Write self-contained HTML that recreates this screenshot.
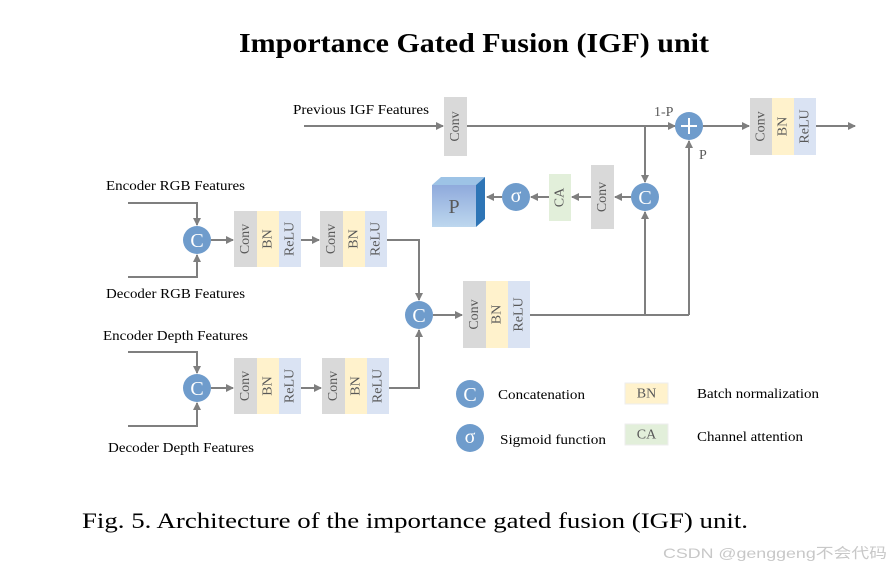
<!DOCTYPE html>
<html><head><meta charset="utf-8"><style>
html,body{margin:0;padding:0;background:#fff;}
svg{display:block;}
text{font-family:"Liberation Serif",serif;}
.l{stroke:#7f7f7f;stroke-width:2;fill:none;}
.bt{fill:#595959;font-size:14px;text-anchor:middle;dominant-baseline:central;}
.lab{fill:#000;font-size:14px;}
</style></head><body>
<svg width="891" height="568" viewBox="0 0 891 568" xmlns="http://www.w3.org/2000/svg">
<defs>
<marker id="a" markerWidth="8" markerHeight="8" refX="7" refY="4" orient="auto" markerUnits="userSpaceOnUse"><path d="M0,0 L8,4 L0,8 Z" fill="#7f7f7f"/></marker>
<linearGradient id="cf" x1="0" y1="0" x2="0" y2="1"><stop offset="0" stop-color="#8faadc"/><stop offset="1" stop-color="#bdd7ee"/></linearGradient>
</defs>
<text x="474" y="52" text-anchor="middle" font-size="27" font-weight="bold" textLength="470" lengthAdjust="spacingAndGlyphs">Importance Gated Fusion (IGF) unit</text>

<!-- top row -->
<text class="lab" x="293" y="114" textLength="136" lengthAdjust="spacingAndGlyphs">Previous IGF Features</text>
<path class="l" d="M304,126 H443" marker-end="url(#a)"/>
<rect x="444" y="97" width="23" height="59" fill="#d9d9d9"/>
<text class="bt" transform="rotate(-90 455.5 126.5)" x="455.5" y="126.5">Conv</text>
<path class="l" d="M467,126 H675" marker-end="url(#a)"/>
<text x="654" y="116" font-size="14" fill="#595959">1-P</text>
<path class="l" d="M645,126 V182" marker-end="url(#a)"/>
<circle cx="689" cy="126" r="14" fill="#6f9ccc"/>
<path d="M681,126 H697 M689,118 V134" stroke="#fff" stroke-width="2"/>
<path class="l" d="M703,126 H749" marker-end="url(#a)"/>
<rect x="750" y="98" width="22" height="57" fill="#d9d9d9"/>
<rect x="772" y="98" width="22" height="57" fill="#fff2cc"/>
<rect x="794" y="98" width="22" height="57" fill="#dae3f3"/>
<text class="bt" transform="rotate(-90 761 126.5)" x="761" y="126.5">Conv</text>
<text class="bt" transform="rotate(-90 783 126.5)" x="783" y="126.5">BN</text>
<text class="bt" transform="rotate(-90 805 126.5)" x="805" y="126.5">ReLU</text>
<path class="l" d="M816,126 H855" marker-end="url(#a)"/>
<text x="699" y="159" font-size="14" fill="#595959">P</text>
<path class="l" d="M689,315 V141" marker-end="url(#a)"/>

<!-- gate row -->
<circle cx="645" cy="197" r="14" fill="#6f9ccc"/>
<text x="645" y="198" fill="#fff" font-size="20" text-anchor="middle" dominant-baseline="central">C</text>
<path class="l" d="M645,315 V212" marker-end="url(#a)"/>
<path class="l" d="M631,197 H615" marker-end="url(#a)"/>
<rect x="591" y="165" width="23" height="64" fill="#d9d9d9"/>
<text class="bt" transform="rotate(-90 602.5 197)" x="602.5" y="197">Conv</text>
<path class="l" d="M591,197 H572" marker-end="url(#a)"/>
<rect x="549" y="174" width="22" height="47" fill="#e2efda"/>
<text class="bt" transform="rotate(-90 560 197.5)" x="560" y="197.5">CA</text>
<path class="l" d="M549,197 H531" marker-end="url(#a)"/>
<circle cx="516" cy="197" r="14" fill="#6f9ccc"/>
<text x="516" y="196" fill="#fff" font-size="20" text-anchor="middle" dominant-baseline="central">σ</text>
<path class="l" d="M502,197 H487" marker-end="url(#a)"/>
<polygon points="432,185 441,177 485,177 476,185" fill="#9dc3e6"/>
<polygon points="476,185 485,177 485,219 476,227" fill="#2e75b6"/>
<rect x="432" y="185" width="44" height="42" fill="url(#cf)"/>
<text x="454" y="207" fill="#595959" font-size="20" text-anchor="middle" dominant-baseline="central">P</text>

<!-- RGB -->
<text class="lab" x="106" y="190" textLength="139" lengthAdjust="spacingAndGlyphs">Encoder RGB Features</text>
<text class="lab" x="106" y="298" textLength="139" lengthAdjust="spacingAndGlyphs">Decoder RGB Features</text>
<path class="l" d="M128,203 H197 V225" marker-end="url(#a)"/>
<path class="l" d="M128,277 H197 V255" marker-end="url(#a)"/>
<circle cx="197" cy="240" r="14" fill="#6f9ccc"/>
<text x="197" y="241" fill="#fff" font-size="20" text-anchor="middle" dominant-baseline="central">C</text>
<path class="l" d="M211,240 H233" marker-end="url(#a)"/>
<g>
<rect x="234" y="211" width="23" height="56" fill="#d9d9d9"/><rect x="257" y="211" width="22" height="56" fill="#fff2cc"/><rect x="279" y="211" width="22" height="56" fill="#dae3f3"/>
<text class="bt" transform="rotate(-90 245.5 239)" x="245.5" y="239">Conv</text>
<text class="bt" transform="rotate(-90 268 239)" x="268" y="239">BN</text>
<text class="bt" transform="rotate(-90 290 239)" x="290" y="239">ReLU</text>
</g>
<path class="l" d="M301,240 H319" marker-end="url(#a)"/>
<g>
<rect x="320" y="211" width="23" height="56" fill="#d9d9d9"/><rect x="343" y="211" width="22" height="56" fill="#fff2cc"/><rect x="365" y="211" width="22" height="56" fill="#dae3f3"/>
<text class="bt" transform="rotate(-90 331.5 239)" x="331.5" y="239">Conv</text>
<text class="bt" transform="rotate(-90 354 239)" x="354" y="239">BN</text>
<text class="bt" transform="rotate(-90 376 239)" x="376" y="239">ReLU</text>
</g>
<path class="l" d="M387,240 H419 V300" marker-end="url(#a)"/>

<!-- Depth -->
<text class="lab" x="103" y="340" textLength="145" lengthAdjust="spacingAndGlyphs">Encoder Depth Features</text>
<text class="lab" x="108" y="452" textLength="146" lengthAdjust="spacingAndGlyphs">Decoder Depth Features</text>
<path class="l" d="M128,352 H197 V373" marker-end="url(#a)"/>
<path class="l" d="M128,426 H197 V403" marker-end="url(#a)"/>
<circle cx="197" cy="388" r="14" fill="#6f9ccc"/>
<text x="197" y="389" fill="#fff" font-size="20" text-anchor="middle" dominant-baseline="central">C</text>
<path class="l" d="M211,388 H233" marker-end="url(#a)"/>
<g>
<rect x="234" y="358" width="23" height="56" fill="#d9d9d9"/><rect x="257" y="358" width="22" height="56" fill="#fff2cc"/><rect x="279" y="358" width="22" height="56" fill="#dae3f3"/>
<text class="bt" transform="rotate(-90 245.5 386)" x="245.5" y="386">Conv</text>
<text class="bt" transform="rotate(-90 268 386)" x="268" y="386">BN</text>
<text class="bt" transform="rotate(-90 290 386)" x="290" y="386">ReLU</text>
</g>
<path class="l" d="M301,388 H321" marker-end="url(#a)"/>
<g>
<rect x="322" y="358" width="23" height="56" fill="#d9d9d9"/><rect x="345" y="358" width="22" height="56" fill="#fff2cc"/><rect x="367" y="358" width="22" height="56" fill="#dae3f3"/>
<text class="bt" transform="rotate(-90 333.5 386)" x="333.5" y="386">Conv</text>
<text class="bt" transform="rotate(-90 356 386)" x="356" y="386">BN</text>
<text class="bt" transform="rotate(-90 378 386)" x="378" y="386">ReLU</text>
</g>
<path class="l" d="M389,388 H419 V330" marker-end="url(#a)"/>

<!-- merge -->
<circle cx="419" cy="315" r="14" fill="#6f9ccc"/>
<text x="419" y="316" fill="#fff" font-size="20" text-anchor="middle" dominant-baseline="central">C</text>
<path class="l" d="M433,315 H462" marker-end="url(#a)"/>
<rect x="463" y="281" width="23" height="67" fill="#d9d9d9"/><rect x="486" y="281" width="22" height="67" fill="#fff2cc"/><rect x="508" y="281" width="22" height="67" fill="#dae3f3"/>
<text class="bt" transform="rotate(-90 474.5 314.5)" x="474.5" y="314.5">Conv</text>
<text class="bt" transform="rotate(-90 497 314.5)" x="497" y="314.5">BN</text>
<text class="bt" transform="rotate(-90 519 314.5)" x="519" y="314.5">ReLU</text>
<path class="l" d="M530,315 H689"/>

<!-- legend -->
<circle cx="470" cy="394" r="14" fill="#6f9ccc"/>
<text x="470" y="395" fill="#fff" font-size="20" text-anchor="middle" dominant-baseline="central">C</text>
<text class="lab" x="498" y="399" textLength="87" lengthAdjust="spacingAndGlyphs">Concatenation</text>
<circle cx="470" cy="438" r="14" fill="#6f9ccc"/>
<text x="470" y="437" fill="#fff" font-size="20" text-anchor="middle" dominant-baseline="central">σ</text>
<text class="lab" x="500" y="444" textLength="106" lengthAdjust="spacingAndGlyphs">Sigmoid function</text>
<rect x="625" y="383" width="43" height="21" fill="#fff2cc" stroke="#eee" />
<text class="bt" x="646.5" y="394">BN</text>
<rect x="625" y="424" width="43" height="21" fill="#e2efda" stroke="#eee"/>
<text class="bt" x="646.5" y="435">CA</text>
<text class="lab" x="697" y="398" textLength="122" lengthAdjust="spacingAndGlyphs">Batch normalization</text>
<text class="lab" x="697" y="441" textLength="106" lengthAdjust="spacingAndGlyphs">Channel attention</text>

<text x="82" y="528" font-size="22" textLength="666" lengthAdjust="spacingAndGlyphs">Fig. 5.  Architecture of the importance gated fusion (IGF) unit.</text>
<text x="663" y="558" font-size="14" fill="#c8c8c8" style="font-family:'Liberation Sans','Noto Sans CJK SC',sans-serif" textLength="224" lengthAdjust="spacingAndGlyphs">CSDN @genggeng不会代码</text>
</svg>
</body></html>
